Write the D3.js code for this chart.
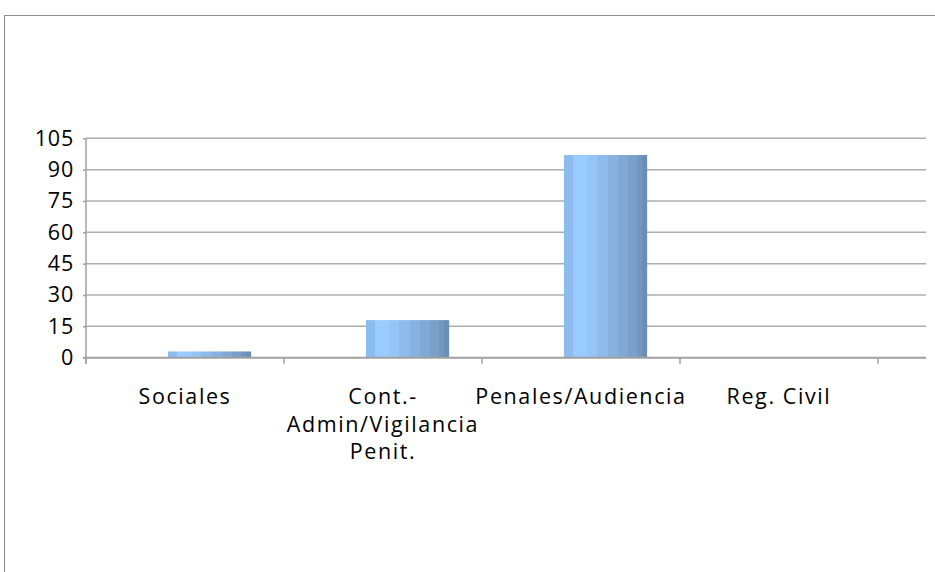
<!DOCTYPE html>
<html>
<head>
<meta charset="utf-8">
<script src="https://cdn.jsdelivr.net/npm/d3@7"></script>
<style>
  html, body { margin: 0; padding: 0; background: #fff; }
  svg { display: block; }
  text { font-family: "Open Sans", Lato, sans-serif; fill: #000; }
</style>
</head>
<body>
<svg id="chart" width="935" height="572"></svg>
<script>
const categories = ["Sociales", "Cont.-Admin/Vigilancia Penit.", "Penales/Audiencia", "Reg. Civil"];
const categoryLines = [["Sociales"], ["Cont.-", "Admin/Vigilancia", "Penit."], ["Penales/Audiencia"], ["Reg. Civil"]];
const values = [3, 18, 97, 0];
const yTicks = [0, 15, 30, 45, 60, 75, 90, 105];

const svg = d3.select("#chart");

// outer frame
svg.append("rect")
  .attr("x", 4.5).attr("y", 15.5)
  .attr("width", 1000).attr("height", 1000)
  .attr("fill", "none").attr("stroke", "#8c8c8c").attr("stroke-width", 1);

const plotLeft = 86, plotRight = 926, bandEnd = 878;
const y = d3.scaleLinear().domain([0, 105]).range([357.7, 138.3]);
const x = d3.scaleBand().domain(categories).range([plotLeft, bandEnd]);
const bw = x.bandwidth();

// gradient for bars (stepped vertical stripes)
const stripeColors = ["#8cbbee", "#99ccff", "#95c5f7", "#8ebbec", "#87b1e0", "#80a8d5", "#7a9fca", "#7398c0", "#6b8eb6"];
const stripeStops = [0, 0.105, 0.275, 0.395, 0.535, 0.655, 0.775, 0.875, 0.94, 1];
const defs = svg.append("defs");
const grad = defs.append("linearGradient").attr("id", "barGrad")
  .attr("x1", "0").attr("x2", "1").attr("y1", "0").attr("y2", "0");
stripeColors.forEach((c, i) => {
  grad.append("stop").attr("offset", stripeStops[i]).attr("stop-color", c);
  grad.append("stop").attr("offset", stripeStops[i + 1]).attr("stop-color", c);
});

// gridlines
svg.append("g").selectAll("line")
  .data(yTicks.filter(t => t > 0))
  .join("line")
  .attr("x1", plotLeft).attr("x2", plotRight)
  .attr("y1", d => y(d)).attr("y2", d => y(d))
  .attr("stroke", "#adadad").attr("stroke-width", 1.5);

// y axis
const yAxis = d3.axisLeft(y).tickValues(yTicks).tickSize(3).tickPadding(9);
const gy = svg.append("g").attr("transform", `translate(${plotLeft},0)`).call(yAxis);
gy.select(".domain").attr("stroke", "#a0a0a0").attr("stroke-width", 1.5)
  .attr("d", `M0,${y(105)}V${y(0) + 6}`);
gy.selectAll(".tick line").attr("stroke", "#a0a0a0").attr("stroke-width", 1.5);
gy.selectAll(".tick text").attr("font-size", 21.5).attr("letter-spacing", 0.8)
  .attr("font-family", "'Open Sans', sans-serif").attr("fill", "#000");

// bars
const barOffset = bw * 0.414, barW = bw * 0.42;
svg.append("g").selectAll("rect")
  .data(values.map((v, i) => ({ c: categories[i], v })))
  .join("rect")
  .attr("x", d => x(d.c) + barOffset)
  .attr("width", barW)
  .attr("y", d => y(d.v))
  .attr("height", d => y(0) - y(d.v))
  .attr("fill", "url(#barGrad)");

// x axis line
svg.append("line")
  .attr("x1", plotLeft - 3).attr("x2", plotRight)
  .attr("y1", y(0)).attr("y2", y(0))
  .attr("stroke", "#a0a0a0").attr("stroke-width", 2);

// x ticks at band boundaries
const boundaries = categories.map(c => x(c)).concat([bandEnd]);
svg.append("g").selectAll("line")
  .data(boundaries)
  .join("line")
  .attr("x1", d => d).attr("x2", d => d)
  .attr("y1", y(0)).attr("y2", y(0) + 6)
  .attr("stroke", "#a0a0a0").attr("stroke-width", 1.5);

// category labels
const lab = svg.append("g").selectAll("text")
  .data(categories.map((c, i) => ({ c, lines: categoryLines[i] })))
  .join("text")
  .attr("text-anchor", "middle")
  .attr("font-size", 21.5)
  .attr("letter-spacing", 1.6)
  .attr("x", d => x(d.c) + bw / 2)
  .attr("y", 404);
lab.selectAll("tspan")
  .data(d => d.lines.map(l => ({ l, cx: x(d.c) + bw / 2 })))
  .join("tspan")
  .attr("x", d => d.cx)
  .attr("dy", (d, i) => i === 0 ? 0 : 27.5)
  .text(d => d.l);
</script>
</body>
</html>
